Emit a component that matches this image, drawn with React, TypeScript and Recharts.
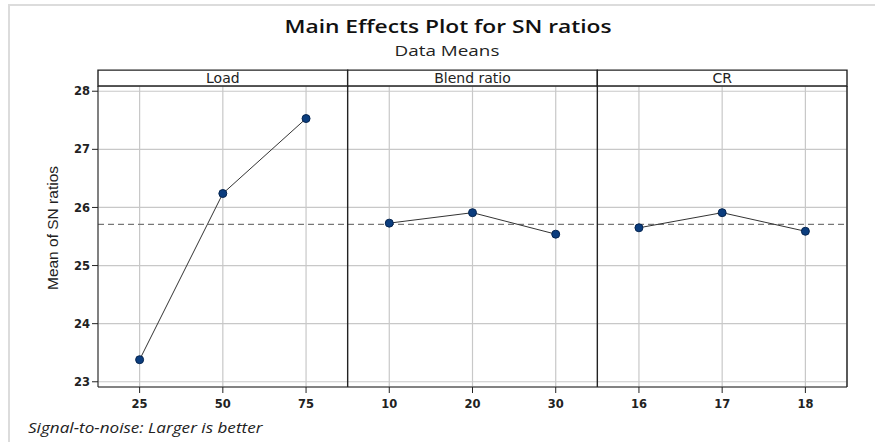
import React from "react";
import {
  LineChart,
  Line,
  XAxis,
  YAxis,
  CartesianGrid,
  ReferenceLine,
  ReferenceArea,
} from "recharts";

// factor names shown in the strips
const factors = ["Load", "Blend ratio", "CR"];

// levels of each factor (x tick labels)
const loadLevels = ["25", "50", "75"];
const blendLevels = ["10", "20", "30"];
const crLevels = ["16", "17", "18"];

// mean of SN ratios per level
const loadMeans = [23.38, 26.24, 27.53];
const blendMeans = [25.73, 25.91, 25.54];
const crMeans = [25.65, 25.91, 25.59];

const grandMean = 25.71;
const yTicks = [23, 24, 25, 26, 27, 28];
const yMin = 22.91;
const yMax = 28.09;
const stripTop = 28.364;

const levels = [loadLevels, blendLevels, crLevels];
const means = [loadMeans, blendMeans, crMeans];

// each panel spans 3 units on a shared x scale
const series = means.map((vals, p) =>
  vals.map((y, i) => ({ x: p * 3 + i + 0.5, y }))
);
const xTicks = series.flat().map((d) => d.x);
const xLabels = levels.flat();

const tickFont = {
  fontFamily: "'DejaVu Sans', sans-serif",
  fontSize: 11.5,
  fontWeight: 600,
  fill: "#222",
};

export default function App() {
  return (
    <div
      style={{
        position: "fixed",
        left: 0,
        top: 0,
        width: 875,
        height: 442,
        background: "#fff",
        overflow: "hidden",
      }}
    >
      <div
        style={{
          position: "absolute",
          left: 8,
          top: 4,
          width: 900,
          height: 460,
          borderTop: "2px solid #dcdcdc",
          borderLeft: "2px solid #dcdcdc",
        }}
      />
      <div
        style={{
          position: "absolute",
          left: 248,
          width: 400,
          top: 17,
          lineHeight: 1,
          textAlign: "center",
          fontFamily: "'Open Sans', sans-serif",
          fontSize: 18.5,
          fontWeight: 600,
          color: "#111",
          whiteSpace: "nowrap",
          transform: "scaleX(1.23)",
        }}
      >
        Main Effects Plot for SN ratios
      </div>
      <div
        style={{
          position: "absolute",
          left: 347,
          width: 200,
          top: 44,
          lineHeight: 1,
          textAlign: "center",
          fontFamily: "'Open Sans', sans-serif",
          fontSize: 14.5,
          color: "#222",
          transform: "scaleX(1.3)",
        }}
      >
        Data Means
      </div>
      <div
        style={{
          position: "absolute",
          left: 53,
          top: 228,
          transform: "translate(-50%, -50%) rotate(-90deg)",
          whiteSpace: "nowrap",
          fontFamily: "'Liberation Sans', Arial, sans-serif",
          fontSize: 15.5,
          color: "#222",
        }}
      >
        Mean of SN ratios
      </div>
      <div
        style={{
          position: "absolute",
          left: 28,
          top: 421,
          lineHeight: 1,
          fontFamily: "'Open Sans', sans-serif",
          fontStyle: "italic",
          fontSize: 14.5,
          color: "#222",
          whiteSpace: "nowrap",
          transform: "scaleX(1.18)",
          transformOrigin: "left center",
        }}
      >
        Signal-to-noise: Larger is better
      </div>
      <LineChart
        width={875}
        height={442}
        margin={{ top: 86, right: 28, bottom: 25, left: 58 }}
        style={{ position: "absolute", left: 0, top: 0 }}
      >
        <CartesianGrid stroke="#c8c8c8" strokeWidth={1.2} />
        <XAxis
          type="number"
          dataKey="x"
          domain={[0, 9]}
          ticks={xTicks}
          tickFormatter={(v: number) => xLabels[xTicks.indexOf(v)]}
          height={30}
          tick={tickFont}
          tickSize={6}
          tickMargin={7}
          stroke="#222"
          allowDuplicatedCategory
        />
        <YAxis
          type="number"
          domain={[yMin, yMax]}
          ticks={yTicks}
          width={40}
          tick={tickFont}
          tickSize={6}
          stroke="#222"
          allowDataOverflow
        />
        <ReferenceLine
          y={grandMean}
          stroke="#777"
          strokeDasharray="6 4"
          strokeWidth={1.2}
        />
        {[3, 6, 9].map((x) => (
          <ReferenceLine key={x} x={x} stroke="#222" strokeWidth={1.4} />
        ))}
        {factors.map((name, p) => (
          <ReferenceArea
            key={name}
            x1={p * 3}
            x2={p * 3 + 3}
            y1={yMax}
            y2={stripTop}
            ifOverflow="visible"
            fill="#fff"
            fillOpacity={1}
            stroke="#222"
            strokeWidth={1.4}
            label={{
              value: name,
              position: "center",
              fill: "#222",
              fontSize: 14,
              fontFamily: "'DejaVu Sans', sans-serif",
            }}
          />
        ))}
        {series.map((data, p) => (
          <Line
            key={factors[p]}
            data={data}
            dataKey="y"
            type="linear"
            stroke="#333"
            strokeWidth={1}
            dot={{ r: 4, fill: "#0b3d7e", stroke: "#062550", strokeWidth: 1 }}
            isAnimationActive={false}
          />
        ))}
      </LineChart>
    </div>
  );
}
